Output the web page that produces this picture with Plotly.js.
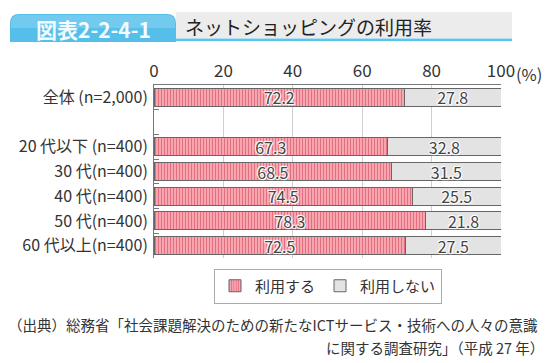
<!DOCTYPE html>
<html><head><meta charset="utf-8">
<script src="https://cdn.plot.ly/plotly-3.0.1.min.js"></script>
<style>html,body{margin:0;padding:0;background:#fff}#c{width:552px;height:363px}</style>
</head><body><div id="c"></div>
<script>
const categories = ['全体 (n=2,000)', ' ', '20 代以下 (n=400)', '30 代(n=400)', '40 代(n=400)', '50 代(n=400)', '60 代以上(n=400)'];
const useValues = [72.2, null, 67.3, 68.5, 74.5, 78.3, 72.5];
const nonUseValues = [27.8, null, 32.8, 31.5, 25.5, 21.8, 27.5];
const seriesNames = ['利用する', '利用しない'];
const tickValues = [0, 20, 40, 60, 80, 100];
const tickLabels = ['0', '20', '40', '60', '80', '100'];

const W = 552, H = 363, L = 154, R = 51, T = 85, B = 105;
const pw = W - L - R, ph = H - T - B;
const X = p => (p - L) / pw;
const Y = p => (H - B - p) / ph;
const font = '"Noto Sans CJK JP", "Noto Sans", sans-serif';
const halo = '1px 0 1px #fff, -1px 0 1px #fff, 0 1px 1px #fff, 0 -1px 1px #fff, 1px 1px 1px #fff, -1px -1px 1px #fff';

const traces = [
  {type:'bar', orientation:'h', name:seriesNames[0], y:categories, x:useValues,
   marker:{color:'#f59aa6', line:{color:'#666', width:1},
     pattern:{shape:'|', fgcolor:'#e46f80', bgcolor:'#f7a6b0', size:3, solidity:0.35, fillmode:'replace'}},
   texttemplate:'%{x:.1f}', textposition:'inside', insidetextanchor:'middle', constraintext:'none',
   textfont:{family:font, size:16, color:'#444', shadow:halo}, hoverinfo:'none'},
  {type:'bar', orientation:'h', name:seriesNames[1], y:categories, x:nonUseValues,
   marker:{color:'#e3e3e3', line:{color:'#666', width:1}},
   texttemplate:'%{x:.1f}', textposition:'inside', insidetextanchor:'middle', constraintext:'none',
   textfont:{family:font, size:16, color:'#444', shadow:halo}, hoverinfo:'none'}
];

function tabPath(x0, y0, x1, y1, r) {
  return `M ${X(x0)} ${Y(y1)} L ${X(x0)} ${Y(y0 + r)} Q ${X(x0)} ${Y(y0)} ${X(x0 + r)} ${Y(y0)} ` +
         `L ${X(x1 - r)} ${Y(y0)} Q ${X(x1)} ${Y(y0)} ${X(x1)} ${Y(y0 + r)} L ${X(x1)} ${Y(y1)} Z`;
}

const layout = {
  width: W, height: H, margin:{l:L, r:R, t:T, b:B},
  paper_bgcolor:'#fff', plot_bgcolor:'#fff',
  barmode:'stack', bargap:0.27,
  font:{family:font, color:'#333', size:16},
  showlegend:true,
  legend:{orientation:'h', x:X(328), xanchor:'center', y:Y(286), yanchor:'middle',
    bordercolor:'#aaa', borderwidth:1, font:{family:font, size:15, color:'#333'},
    itemwidth:30, traceorder:'normal', tracegroupgap:0, itemclick:false},
  xaxis:{side:'top', range:[0,100], tickvals:tickValues, ticktext:tickLabels,
    showgrid:true, gridcolor:'#cfcfcf', gridwidth:1, zeroline:false,
    showline:true, linecolor:'#777', linewidth:1, ticks:'', mirror:false,
    tickfont:{family:font, size:17, color:'#333'}, fixedrange:true},
  yaxis:{autorange:'reversed', type:'category', showline:true, linecolor:'#777', linewidth:1,
    ticks:'inside', tickson:'boundaries', ticklen:5, tickcolor:'#777', showgrid:false,
    tickfont:{family:font, size:16, color:'#333'}, ticklabelstandoff:2, fixedrange:true},
  shapes:[
    {type:'rect', xref:'paper', yref:'paper', x0:X(176), x1:X(512), y0:Y(38), y1:Y(12), fillcolor:'#ececec', line:{width:0}},
    {type:'rect', xref:'paper', yref:'paper', x0:X(176), x1:X(512), y0:Y(41), y1:Y(38.5), fillcolor:'#5cc3ea', line:{width:0}},
    {type:'path', xref:'paper', yref:'paper', path:tabPath(10, 14, 176, 42, 9), fillcolor:'#55bfe9', line:{width:0}},
    {type:'path', xref:'paper', yref:'paper', path:tabPath(11, 15, 175, 28, 8), fillcolor:'#86d3f2', line:{width:0}, opacity:0.6}
  ],
  annotations:[
    {xref:'paper', yref:'paper', x:X(93), y:Y(29), xanchor:'center', yanchor:'middle', showarrow:false,
     text:'<b>図表2-2-4-1</b>', font:{family:font, size:21, color:'#f2fbff'}},
    {xref:'paper', yref:'paper', x:X(183), y:Y(26), xanchor:'left', yanchor:'middle', showarrow:false,
     text:'ネットショッピングの利用率', font:{family:font, size:19, color:'#222'}},
    {xref:'paper', yref:'paper', x:X(514), y:Y(74), xanchor:'left', yanchor:'middle', showarrow:false,
     text:'(%)', font:{family:font, size:16.5, color:'#333'}},
    {xref:'paper', yref:'paper', x:X(6), y:Y(324), xanchor:'left', yanchor:'middle', showarrow:false,
     text:'（出典）総務省「社会課題解決のための新たなICTサービス・技術への人々の意識', font:{family:font, size:14.5, color:'#333'}},
    {xref:'paper', yref:'paper', x:X(546), y:Y(347), xanchor:'right', yanchor:'middle', showarrow:false,
     text:'に関する調査研究」（平成 27 年）', font:{family:font, size:14.5, color:'#333'}}
  ]
};
Plotly.newPlot('c', traces, layout, {displayModeBar:false, staticPlot:true});
</script></body></html>
